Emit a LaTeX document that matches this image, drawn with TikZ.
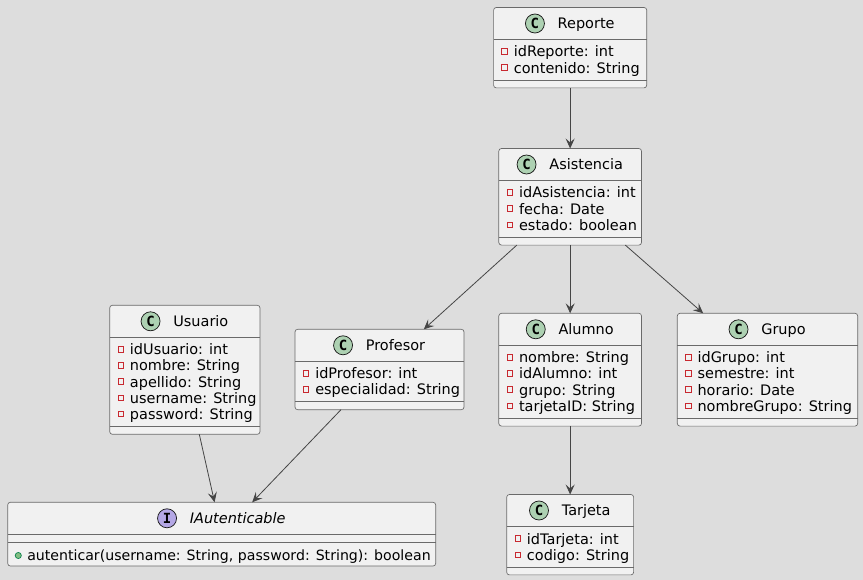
\documentclass[tikz,border=0pt]{standalone}
\usepackage{fontspec}
\setmainfont{DejaVu Sans}
\newfontfamily\circfont{DejaVu Sans Mono}
\usetikzlibrary{arrows.meta,calc}
\definecolor{bgc}{HTML}{DDDDDD}
\definecolor{boxfill}{HTML}{F1F1F1}
\definecolor{linec}{HTML}{181818}
\definecolor{borderc}{HTML}{6A6A6A}
\definecolor{edgec}{HTML}{454545}
\definecolor{cgreen}{HTML}{ADD1B2}
\definecolor{ipurple}{HTML}{B4A7E5}
\definecolor{privred}{HTML}{C82930}
\definecolor{pubfill}{HTML}{84BE84}
\definecolor{pubdraw}{HTML}{038048}
\newcommand\umlfont{\fontsize{10.85}{12}\selectfont}
\tikzset{
  clsbox/.style={draw=borderc, line width=0.5pt, fill=boxfill, rounded corners=2pt, inner sep=0pt, outer sep=0pt, rectangle},
  sepline/.style={draw=borderc, line width=0.5pt},
  circC/.style={circle, draw=linec, line width=0.55pt, minimum size=14.25pt, inner sep=0pt, font=\circfont\bfseries\fontsize{10.5}{12}\selectfont},
  titletext/.style={inner sep=0pt, anchor=base, font=\umlfont},
  attrtext/.style={inner sep=0pt, anchor=base west, font=\umlfont},
  privsq/.style={draw=privred, line width=0.6pt},
  edge/.style={draw=edgec, line width=0.6pt, -{Stealth[length=7.5pt,width=6.8pt,inset=3pt]}},
}
\newcommand\UClass[6]{%
  % #1 name, #2 left, #3 right, #4 top, #5 title, #6 rows
  \pgfmathsetmacro\ucT{#4}%
  \pgfmathsetmacro\ucL{#2}%
  \pgfmathsetmacro\ucR{#3}%
  \gdef\ucN{0}%
  \foreach \r [count=\i] in {#6} {\xdef\ucN{\i}}%
  \pgfmathsetmacro\ucSa{\ucT+32}%
  \pgfmathsetmacro\ucSb{\ucSa+16.2*\ucN+8}%
  \pgfmathsetmacro\ucB{\ucSb+8}%
  \pgfmathsetmacro\ucCX{(\ucL+\ucR)/2}%
  \pgfmathsetmacro\ucCY{(\ucT+\ucB)/2}%
  \pgfmathsetmacro\ucW{(\ucR-\ucL)*0.75}%
  \pgfmathsetmacro\ucH{(\ucB-\ucT)*0.75}%
  \node[clsbox, minimum width=\ucW pt, minimum height=\ucH pt] (#1) at (\ucCX,\ucCY) {};
  \draw[sepline] (\ucL,\ucSa) -- (\ucR,\ucSa);
  \draw[sepline] (\ucL,\ucSb) -- (\ucR,\ucSb);
  \pgfmathsetmacro\ucTY{\ucT+16}%
  \pgfmathsetmacro\ucTB{\ucT+21.3}%
  \pgfmathsetmacro\ucTX{\ucCX+16}%
  \node[titletext] (#1-title) at (\ucTX,\ucTB) {#5};
  \path ([xshift=-16.9pt]#1-title.west) coordinate (#1-cc);
  \node[circC, fill=cgreen] (#1-circ) at (#1-cc |- 0,\ucTY) {C};
  \foreach \r [count=\i] in {#6} {%
    \pgfmathsetmacro\ucY{\ucSa+12+16.2*(\i-1)}%
    \pgfmathsetmacro\ucYb{\ucY+5.5}%
    \pgfmathsetmacro\ucSx{\ucL+11}%
    \pgfmathsetmacro\ucTxx{\ucL+20}%
    \draw[privsq] ($(\ucSx,\ucY)+(-2.8,-2.8)$) rectangle ($(\ucSx,\ucY)+(2.8,2.8)$);
    \node[attrtext] at (\ucTxx,\ucYb) {\r};
  }%
}
\begin{document}
\begin{tikzpicture}[x=0.75pt,y=-0.75pt]
\useasboundingbox (0,0) rectangle (863,580);
\fill[bgc] (0,0) rectangle (863,580);

\UClass{rep}{493.6}{646.7}{7.5}{Reporte}{idReporte: int, contenido: String}
\UClass{asi}{498.8}{641.5}{148.5}{Asistencia}{idAsistencia: int, fecha: Date, estado: boolean}
\UClass{usu}{109.7}{260}{305.3}{Usuario}{idUsuario: int, nombre: String, apellido: String, username: String, password: String}
\UClass{pro}{295}{464}{329.3}{Profesor}{idProfesor: int, especialidad: String}
\UClass{alu}{498.8}{641.5}{313.3}{Alumno}{nombre: String, idAlumno: int, grupo: String, tarjetaID: String}
\UClass{gru}{677.3}{857.7}{313.3}{Grupo}{idGrupo: int, semestre: int, horario: Date, nombreGrupo: String}
\UClass{tar}{506.7}{633.6}{494.5}{Tarjeta}{idTarjeta: int, codigo: String}

% Interface
\node[clsbox, minimum width=321pt, minimum height=47.8pt] (iau) at (221.7,534.15) {};
\draw[sepline] (7.7,534.3) -- (435.7,534.3);
\draw[sepline] (7.7,542.5) -- (435.7,542.5);
\node[titletext, font=\itshape\umlfont] (iau-title) at (237.7,523.6) {IAutenticable};
\path ([xshift=-16.9pt]iau-title.west) coordinate (iau-cc);
\node[circC, fill=ipurple] (iau-circ) at (iau-cc |- 0,518.3) {I};
\filldraw[fill=pubfill, draw=pubdraw, line width=0.5pt] (18.3,555.5) circle[radius=2.3pt];
\node[attrtext, font=\fontsize{10.6}{12}\selectfont] (iau-m) at (27,560.5) {autenticar(username: String, password: String): boolean};

% Connectors
\draw[edge] (rep) -- (asi);
\draw[edge] (asi) -- (pro);
\draw[edge] (asi) -- (alu);
\draw[edge] (asi) -- (gru);
\draw[edge] (alu) -- (tar);
\draw[edge] (usu) -- (iau);
\draw[edge] (pro) -- (iau);
\end{tikzpicture}
\end{document}
